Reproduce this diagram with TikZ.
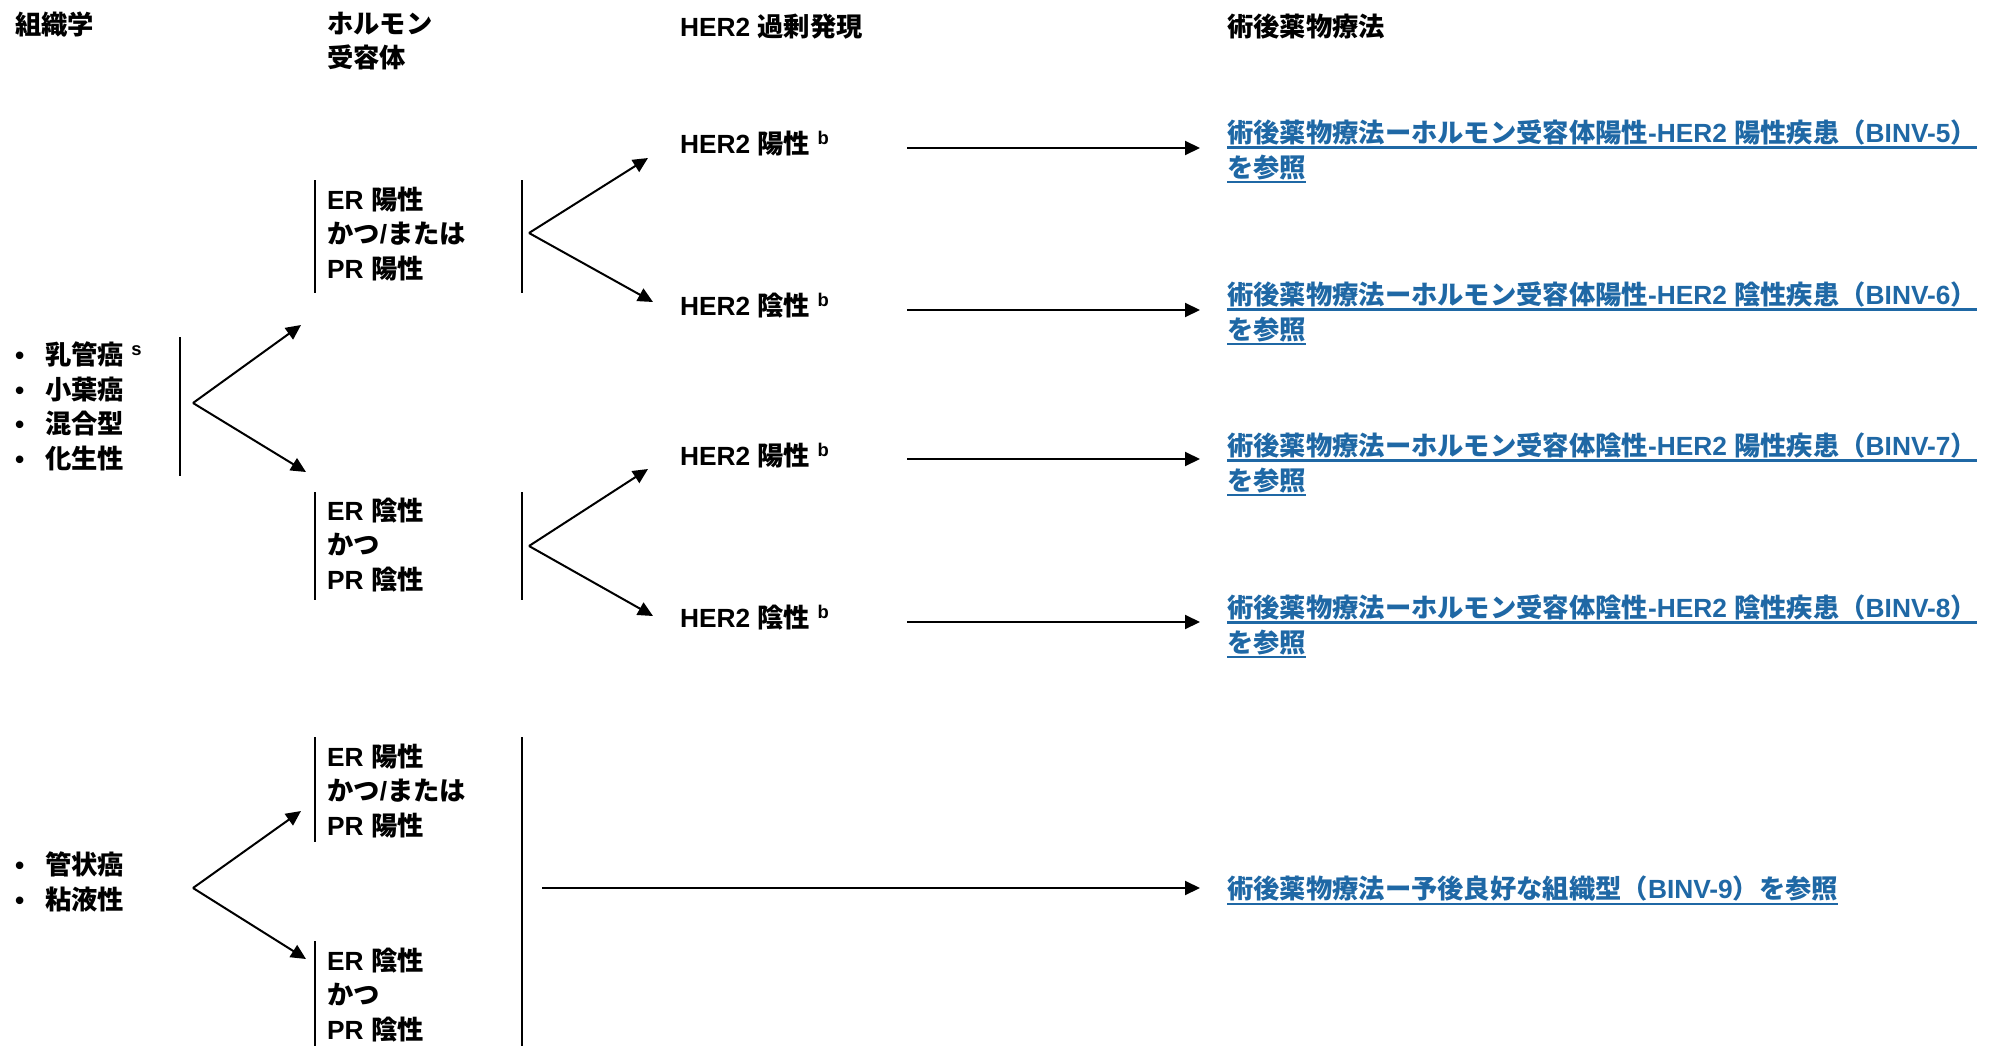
\documentclass[tikz,border=0pt]{standalone}
\usepackage{fontspec}
\setmainfont{Liberation Sans}
\newfontfamily\cjkfont{Noto Sans CJK JP}
\usetikzlibrary{arrows.meta}
\newXeTeXintercharclass\cjkcls
\makeatletter
\count@="3000
\loop\ifnum\count@<"A000 \XeTeXcharclass\count@=\cjkcls \advance\count@ by 1 \repeat
\count@="FF00
\loop\ifnum\count@<"FFF0 \XeTeXcharclass\count@=\cjkcls \advance\count@ by 1 \repeat
\makeatother
\XeTeXinterchartoks 0 \cjkcls = {\cjkfont}
\XeTeXinterchartoks 4095 \cjkcls = {\cjkfont}
\XeTeXinterchartoks \cjkcls 0 = {\rmfamily}
\XeTeXinterchartoks \cjkcls 4095 = {\rmfamily}
\XeTeXinterchartokenstate=1
\definecolor{linkblue}{HTML}{1F68A5}
\newcommand\ulnk[1]{\setbox0=\hbox{#1}\rlap{\rule[-6pt]{\wd0}{2.2pt}}\box0}
\newcommand\blt{\makebox[31pt][l]{\hspace{1pt}•}}
\tikzset{
  txt/.style={inner sep=0pt, anchor=north west, align=left,
    font=\fontsize{26.3}{34.5}\selectfont\bfseries,
    execute at begin node={\rule{0pt}{26pt}}},
  lnk/.style={txt, text=linkblue},
  arr/.style={line width=2pt, -{Triangle[length=15pt,width=14pt]}},
  bar/.style={line width=2pt},
}
\begin{document}
\begin{tikzpicture}[x=1pt,y=-1pt]
\useasboundingbox (0,0) rectangle (2000,1046);
% headers
\node[txt] (h1) at (15,8) {組織学};
\node[txt] (h2) at (327,11.7) {ホルモン\\受容体};
\node[txt] (h3) at (680,10) {HER2 過剰発現};
\node[txt] (h4) at (1227,10) {術後薬物療法};
% group 1
\node[txt] (g1) at (14,341.7) {\blt 乳管癌 \textsuperscript{s}\\\blt 小葉癌\\\blt 混合型\\\blt 化生性};
\coordinate (b1t) at (180,337); \coordinate (b1b) at (180,476);
\draw[bar] (b1t) -- (b1b);
\coordinate (a1) at (193,403);
\coordinate (a1u) at (301,325); \coordinate (a1d) at (306,472);
\draw[arr] (a1) -- (a1u);
\draw[arr] (a1) -- (a1d);
% ER positive (group 1)
\node[txt] (er1) at (327,186.7) {ER 陽性\\かつ/または\\PR 陽性};
\coordinate (e1lt) at (315,180); \coordinate (e1lb) at (315,293);
\coordinate (e1rt) at (522,180); \coordinate (e1rb) at (522,293);
\draw[bar] (e1lt) -- (e1lb);
\draw[bar] (e1rt) -- (e1rb);
\coordinate (a2) at (529,233);
\coordinate (a2u) at (648,158); \coordinate (a2d) at (653,302);
\draw[arr] (a2) -- (a2u);
\draw[arr] (a2) -- (a2d);
\node[txt] (hp1) at (680,127.7) {HER2 陽性 \textsuperscript{b}};
\node[txt] (hn1) at (680,289.7) {HER2 陰性 \textsuperscript{b}};
\coordinate (s1) at (907,148); \coordinate (t1) at (1200,148);
\coordinate (s2) at (907,310); \coordinate (t2) at (1200,310);
\draw[arr] (s1) -- (t1);
\draw[arr] (s2) -- (t2);
\node[lnk] (l1) at (1227,119.7) {\ulnk{術後薬物療法ーホルモン受容体陽性-HER2 陽性疾患（BINV-5）}\\\ulnk{を参照}};
\node[lnk] (l2) at (1227,281.7) {\ulnk{術後薬物療法ーホルモン受容体陽性-HER2 陰性疾患（BINV-6）}\\\ulnk{を参照}};
% ER negative (group 1)
\node[txt] (er2) at (327,497.7) {ER 陰性\\かつ\\PR 陰性};
\coordinate (e2lt) at (315,492); \coordinate (e2lb) at (315,600);
\coordinate (e2rt) at (522,492); \coordinate (e2rb) at (522,600);
\draw[bar] (e2lt) -- (e2lb);
\draw[bar] (e2rt) -- (e2rb);
\coordinate (a3) at (529,546);
\coordinate (a3u) at (648,469); \coordinate (a3d) at (653,616);
\draw[arr] (a3) -- (a3u);
\draw[arr] (a3) -- (a3d);
\node[txt] (hp2) at (680,439.7) {HER2 陽性 \textsuperscript{b}};
\node[txt] (hn2) at (680,601.7) {HER2 陰性 \textsuperscript{b}};
\coordinate (s3) at (907,459); \coordinate (t3) at (1200,459);
\coordinate (s4) at (907,622); \coordinate (t4) at (1200,622);
\draw[arr] (s3) -- (t3);
\draw[arr] (s4) -- (t4);
\node[lnk] (l3) at (1227,432.7) {\ulnk{術後薬物療法ーホルモン受容体陰性-HER2 陽性疾患（BINV-7）}\\\ulnk{を参照}};
\node[lnk] (l4) at (1227,594.7) {\ulnk{術後薬物療法ーホルモン受容体陰性-HER2 陰性疾患（BINV-8）}\\\ulnk{を参照}};
% group 2
\node[txt] (g2) at (14,851.7) {\blt 管状癌\\\blt 粘液性};
\coordinate (a4) at (193,888);
\coordinate (a4u) at (301,811); \coordinate (a4d) at (306,959);
\draw[arr] (a4) -- (a4u);
\draw[arr] (a4) -- (a4d);
\node[txt] (er3) at (327,743.7) {ER 陽性\\かつ/または\\PR 陽性};
\node[txt] (er4) at (327,947.7) {ER 陰性\\かつ\\PR 陰性};
\coordinate (e3t) at (315,737); \coordinate (e3b) at (315,842);
\coordinate (e4t) at (315,941); \coordinate (e4b) at (315,1046);
\coordinate (e5t) at (522,737); \coordinate (e5b) at (522,1046);
\draw[bar] (e3t) -- (e3b);
\draw[bar] (e4t) -- (e4b);
\draw[bar] (e5t) -- (e5b);
\coordinate (s5) at (542,888); \coordinate (t5) at (1200,888);
\draw[arr] (s5) -- (t5);
\node[lnk] (l5) at (1227,872.7) {\ulnk{術後薬物療法ー予後良好な組織型（BINV-9）を参照}};
\end{tikzpicture}
\end{document}
